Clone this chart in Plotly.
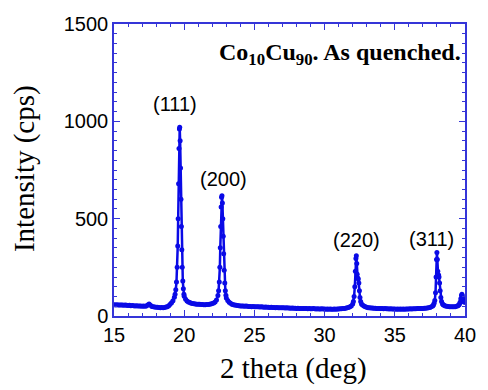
import plotly.graph_objects as go

two_theta = [
    15.0, 15.1, 15.2, 15.3, 15.4, 15.5, 15.6, 15.7, 15.8, 15.9,
    16.0, 16.1, 16.2, 16.3, 16.4, 16.5, 16.6, 16.7, 16.8, 16.9,
    17.0, 17.1, 17.2, 17.3, 17.4, 17.5, 17.6, 17.7, 17.8, 17.9,
    18.0, 18.1, 18.2, 18.3, 18.4, 18.5, 18.6, 18.7, 18.8, 18.9,
    19.0, 19.1, 19.2, 19.3, 19.35, 19.4, 19.45, 19.5, 19.54, 19.57,
    19.60, 19.63, 19.66, 19.68, 19.71, 19.74, 19.77, 19.80, 19.83, 19.86,
    19.90, 19.94, 19.98, 20.0, 20.1, 20.2, 20.3, 20.4, 20.5, 20.6, 20.7,
    20.8, 20.9, 21.0, 21.1, 21.2, 21.3, 21.4, 21.5, 21.6, 21.7,
    21.8, 21.9, 22.0, 22.1, 22.2, 22.3, 22.4, 22.45, 22.5, 22.54,
    22.57, 22.60, 22.63, 22.66, 22.69, 22.72, 22.75, 22.78, 22.81, 22.85,
    22.89, 22.93, 22.97, 23.0, 23.1, 23.2, 23.3, 23.4, 23.5, 23.6, 23.7,
    23.8, 23.9, 24.0, 24.1, 24.2, 24.3, 24.4, 24.5, 24.6, 24.7,
    24.8, 24.9, 25.0, 25.1, 25.2, 25.3, 25.4, 25.5, 25.6, 25.7,
    25.8, 25.9, 26.0, 26.1, 26.2, 26.3, 26.4, 26.5, 26.6, 26.7,
    26.8, 26.9, 27.0, 27.1, 27.2, 27.3, 27.4, 27.5, 27.6, 27.7,
    27.8, 27.9, 28.0, 28.1, 28.2, 28.3, 28.4, 28.5, 28.6, 28.7,
    28.8, 28.9, 29.0, 29.1, 29.2, 29.3, 29.4, 29.5, 29.6, 29.7,
    29.8, 29.9, 30.0, 30.1, 30.2, 30.3, 30.4, 30.5, 30.6, 30.7,
    30.8, 30.9, 31.0, 31.1, 31.2, 31.3, 31.4, 31.5, 31.6, 31.7,
    31.8, 31.9, 32.0, 32.05, 32.1, 32.15, 32.19, 32.23, 32.26, 32.29,
    32.32, 32.36, 32.40, 32.44, 32.48, 32.52, 32.57, 32.63, 32.7, 32.8,
    32.9, 33.0, 33.1, 33.2, 33.3, 33.4, 33.5, 33.6, 33.7, 33.8,
    33.9, 34.0, 34.1, 34.2, 34.3, 34.4, 34.5, 34.6, 34.7, 34.8,
    34.9, 35.0, 35.1, 35.2, 35.3, 35.4, 35.5, 35.6, 35.7, 35.8,
    35.9, 36.0, 36.1, 36.2, 36.3, 36.4, 36.5, 36.6, 36.7, 36.8,
    36.9, 37.0, 37.1, 37.2, 37.3, 37.4, 37.5, 37.6, 37.7, 37.75,
    37.8, 37.85, 37.9, 37.94, 37.97, 38.0, 38.03, 38.06, 38.09, 38.12,
    38.15, 38.19, 38.23, 38.28, 38.33, 38.4, 38.45, 38.5, 38.6, 38.7,
    38.8, 38.9, 39.0, 39.1, 39.2, 39.3, 39.4, 39.5, 39.55, 39.6,
    39.65, 39.7, 39.75, 39.78, 39.81, 39.85, 39.9, 39.95, 40.0,
]
intensity = [
    58, 57, 58, 57, 56, 57, 56, 55, 56, 55,
    54, 55, 53, 54, 53, 52, 53, 51, 52, 51,
    50, 51, 50, 52, 57, 62, 55, 49, 47, 46,
    45, 45, 44, 43, 44, 43, 44, 46, 48, 53,
    60, 68, 78, 96, 112, 135, 175, 250, 360, 500,
    680, 860, 960, 970, 900, 760, 600, 460, 340, 250,
    180, 140, 112, 102, 86, 77, 72, 69, 66, 64, 63,
    62, 61, 60, 60, 59, 59, 58, 58, 59, 59,
    60, 62, 64, 67, 72, 82, 105, 130, 175, 250,
    350, 460, 560, 610, 618, 580, 500, 410, 320, 235,
    170, 130, 107, 92, 80, 71, 65, 61, 58, 56, 55,
    54, 53, 52, 52, 51, 50, 51, 50, 49, 49,
    48, 49, 48, 47, 48, 47, 46, 47, 46, 45,
    46, 45, 45, 44, 45, 44, 44, 43, 44, 43,
    42, 43, 42, 42, 41, 42, 41, 41, 40, 41,
    40, 40, 39, 40, 39, 39, 38, 39, 38, 38,
    37, 38, 37, 37, 38, 37, 36, 37, 36, 36,
    37, 36, 36, 35, 36, 35, 36, 35, 35, 36,
    35, 36, 36, 37, 37, 38, 39, 40, 42, 44,
    47, 52, 62, 75, 100, 150, 230, 295, 310, 270,
    215, 195, 190, 170, 130, 95, 75, 62, 56, 51,
    47, 45, 43, 42, 41, 41, 40, 40, 39, 39,
    38, 38, 38, 37, 38, 37, 37, 36, 37, 36,
    36, 36, 35, 36, 35, 36, 35, 36, 35, 36,
    36, 36, 37, 36, 37, 37, 37, 38, 38, 38,
    39, 39, 40, 40, 41, 42, 44, 47, 52, 57,
    65, 80, 120, 200, 290, 326, 290, 230, 205, 210,
    200, 170, 130, 95, 75, 62, 58, 55, 52, 50,
    49, 48, 47, 47, 47, 48, 50, 53, 56, 60,
    70, 88, 105, 112, 104, 88, 75, 70, 72,
]

peak_labels = ["(111)", "(200)", "(220)", "(311)"]
label_x = [19.35, 22.83, 32.3, 37.62]
label_y = [1088, 705, 392, 398]

x_ticks = [15, 20, 25, 30, 35, 40]
y_ticks = [0, 500, 1000, 1500]

axis_color = "#3535d8"
data_color = "#0a0ae6"
SANS = "Liberation Sans"
SERIF = "Liberation Serif"

fig = go.Figure()
fig.add_trace(go.Scatter(
    x=two_theta, y=intensity, mode="lines+markers",
    line=dict(color=data_color, width=2.5),
    marker=dict(color=data_color, size=5),
    showlegend=False, hoverinfo="skip",
))

for t, xx, yy in zip(peak_labels, label_x, label_y):
    fig.add_annotation(x=xx, y=yy, text=t, showarrow=False,
                       font=dict(family=SANS, size=20, color="black"),
                       xanchor="center", yanchor="middle")

fig.add_annotation(x=39.85, y=1345, xref="x", yref="y",
                   text="<b>Co<sub>10</sub>Cu<sub>90</sub>. As quenched.</b>",
                   showarrow=False, xanchor="right", yanchor="middle",
                   font=dict(family=SERIF, size=24, color="black"))

# axis titles
fig.add_annotation(x=0.5125, y=-0.18, xref="paper", yref="paper",
                   text="2 theta (deg)", showarrow=False,
                   xanchor="center", yanchor="middle",
                   font=dict(family=SERIF, size=29, color="black"))
fig.add_annotation(x=-0.255, y=0.505, xref="paper", yref="paper",
                   text="Intensity (cps)", showarrow=False, textangle=-90,
                   xanchor="center", yanchor="middle",
                   font=dict(family=SERIF, size=29, color="black"))

axis_common = dict(
    showline=True, linecolor=axis_color, linewidth=1.5, mirror="allticks",
    ticks="inside", tickcolor=axis_color, ticklen=6, tickwidth=1.2,
    showgrid=False, zeroline=False,
    tickfont=dict(family=SANS, size=20, color="black"),
)

fig.update_xaxes(
    range=[15, 40], tickvals=x_ticks, ticktext=[str(v) for v in x_ticks],
    minor=dict(dtick=1, tick0=15, ticks="inside", ticklen=3, tickcolor=axis_color, tickwidth=1),
    **axis_common,
)
fig.update_yaxes(
    range=[0, 1500], tickvals=y_ticks, ticktext=[str(v) for v in y_ticks],
    minor=dict(dtick=50, tick0=0, ticks="inside", ticklen=3, tickcolor=axis_color, tickwidth=1),
    **axis_common,
)

fig.update_layout(
    width=488, height=390,
    margin=dict(l=114, r=13, t=24, b=74),
    plot_bgcolor="white", paper_bgcolor="white",
)

fig.write_html("out.html")
